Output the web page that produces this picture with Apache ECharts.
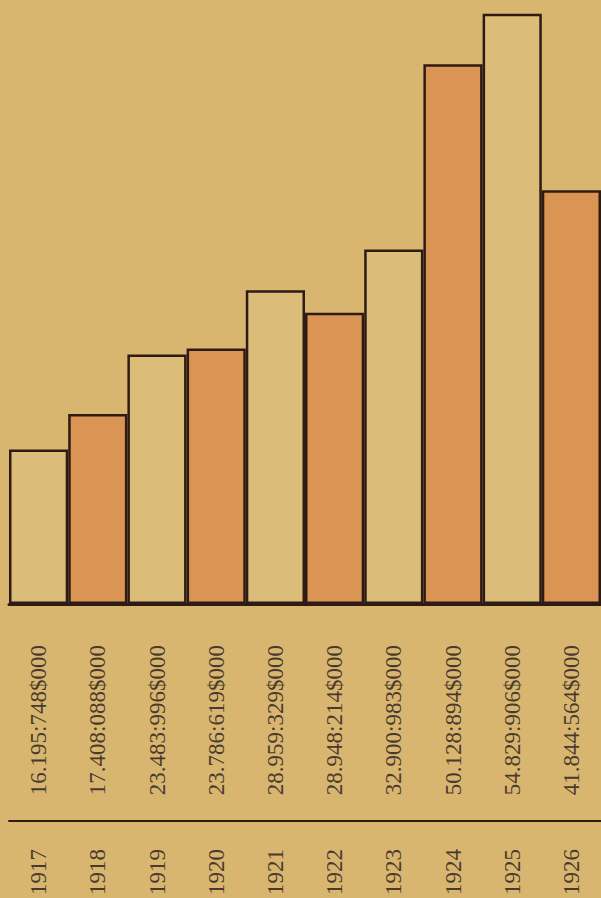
<!DOCTYPE html>
<html>
<head>
<meta charset="utf-8">
<script src="https://cdn.jsdelivr.net/npm/echarts@6/dist/echarts.min.js"></script>
<style>
  html, body { margin: 0; padding: 0; background: #d8b670; }
  #chart { width: 601px; height: 898px; }
</style>
</head>
<body>
<div id="chart"></div>
<script>
// Years (categories)
const years = ['1917', '1918', '1919', '1920', '1921', '1922', '1923', '1924', '1925', '1926'];
// Printed values in mil-réis (e.g. 16.195:748$000 = 16,195,748 mil-réis)
const values = [16195748, 17408088, 23483996, 23786619, 28959329, 28948214, 32900983, 50128894, 54829906, 41844564];
// Bar heights as actually drawn in the original (hand-drawn, mil-réis)
const drawnValues = [14350000, 17660000, 23180000, 23740000, 29160000, 27050000, 32930000, 50140000, 54830000, 38450000];
// Bar fill colours, alternating
const barColors = ['#dcbc79', '#da9554'];

function formatReis(v) {
  const contos = Math.floor(v / 1000);
  const mil = v % 1000;
  const contosStr = String(contos).replace(/\B(?=(\d{3})+(?!\d))/g, '.');
  return contosStr + ':' + String(mil).padStart(3, '0') + '$000';
}

const ink = '#2e1b14';
const textColor = '#4a3a2e';
const font = "'Liberation Serif', 'DejaVu Serif', serif";

const chart = echarts.init(document.getElementById('chart'), null, { renderer: 'svg' });
chart.setOption({
  backgroundColor: '#d8b670',
  animation: false,
  grid: { left: 9, right: 0, top: 12, bottom: 288, containLabel: false },
  xAxis: [
    {
      type: 'category',
      data: years,
      position: 'bottom',
      axisLine: { show: true, lineStyle: { color: ink, width: 3 } },
      axisTick: { show: false },
      axisLabel: {
        interval: 0,
        rotate: 90,
        margin: 41,
        color: textColor,
        fontFamily: font,
        fontSize: 23,
        formatter: (val, idx) => formatReis(values[idx])
      }
    },
    {
      type: 'category',
      data: years,
      position: 'bottom',
      offset: 217,
      axisLine: { show: true, lineStyle: { color: ink, width: 2 } },
      axisTick: { show: false },
      axisLabel: {
        interval: 0,
        rotate: 90,
        margin: 28,
        color: textColor,
        fontFamily: font,
        fontSize: 23
      }
    }
  ],
  yAxis: {
    type: 'value',
    min: 0,
    max: 55000000,
    show: false,
    splitLine: { show: false }
  },
  series: [{
    type: 'bar',
    xAxisIndex: 0,
    data: drawnValues,
    barCategoryGap: '0%',
    itemStyle: {
      color: p => barColors[p.dataIndex % 2],
      borderColor: ink,
      borderWidth: 2.5
    }
  }]
});
</script>
</body>
</html>
